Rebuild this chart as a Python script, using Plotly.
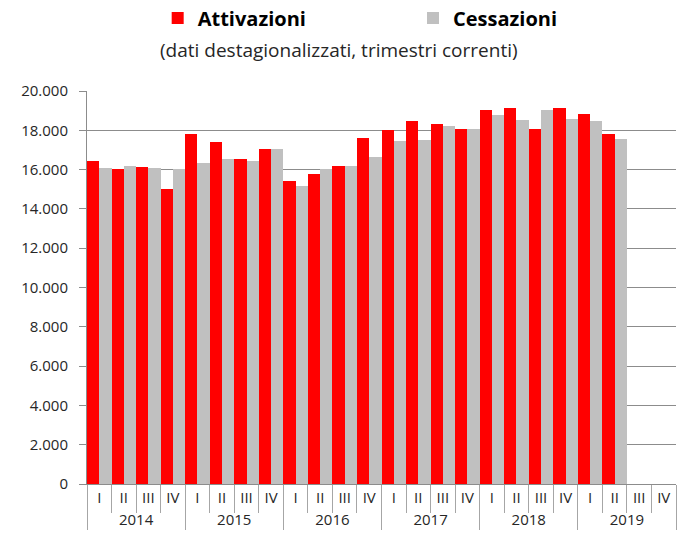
import plotly.graph_objects as go

years = ["2014"] * 4 + ["2015"] * 4 + ["2016"] * 4 + ["2017"] * 4 + ["2018"] * 4 + ["2019"] * 4
quarters = ["I", "II", "III", "IV"] * 6

attivazioni = [16460, 16020, 16140, 14990,
               17830, 17420, 16550, 17060,
               15440, 15760, 16200, 17620,
               18000, 18460, 18340, 18070,
               19040, 19110, 18070, 19110,
               18850, 17830, None, None]
cessazioni = [16090, 16200, 16090, 16020,
              16340, 16530, 16460, 17040,
              15180, 16020, 16200, 16650,
              17440, 17490, 18200, 18070,
              18790, 18530, 19040, 18600,
              18460, 17560, None, None]

FONT = "Open Sans"
TXT = "#262626"
LEGFONT = dict(family=FONT, size=20, color="#000000", weight="bold")

fig = go.Figure()
fig.add_trace(go.Bar(x=[years, quarters], y=attivazioni, name="Attivazioni",
                     marker=dict(color="#ff0000", line=dict(width=0)), legend="legend"))
fig.add_trace(go.Bar(x=[years, quarters], y=cessazioni, name="Cessazioni",
                     marker=dict(color="#c0c0c0", line=dict(width=0)), legend="legend2"))

fig.update_layout(
    width=688, height=543,
    margin=dict(l=87, r=12, t=91, b=59, autoexpand=False),
    paper_bgcolor="white", plot_bgcolor="white",
    barmode="group", bargap=0, bargroupgap=0,
    separators=",.",
    font=dict(family=FONT, color=TXT, size=15),
    showlegend=True,
    legend=dict(orientation="h", x=0.12, xanchor="left", y=1.186, yanchor="middle",
                font=LEGFONT, bgcolor="rgba(0,0,0,0)"),
    legend2=dict(orientation="h", x=0.5535, xanchor="left", y=1.186, yanchor="middle",
                 font=LEGFONT, bgcolor="rgba(0,0,0,0)"),
    annotations=[dict(text="(dati destagionalizzati, trimestri correnti)",
                      x=0.427, y=1.104, xref="paper", yref="paper",
                      xanchor="center", yanchor="middle", showarrow=False,
                      font=dict(family=FONT, size=19, color=TXT))],
)

fig.update_yaxes(range=[0, 20000], dtick=2000, tickformat=",d",
                 showgrid=True, gridcolor="#8c8c8c", gridwidth=1,
                 showline=True, linecolor="#8c8c8c", linewidth=1,
                 ticks="outside", ticklen=7, tickcolor="#8c8c8c",
                 ticklabelstandoff=8,
                 tickfont=dict(family=FONT, size=15, color=TXT),
                 zeroline=False)
fig.update_xaxes(type="multicategory", showline=True, linecolor="#8c8c8c", linewidth=1,
                 ticks="outside", tickson="boundaries", ticklen=28, tickcolor="#a6a6a6",
                 showdividers=True, dividercolor="#a6a6a6", dividerwidth=1,
                 tickfont=dict(family=FONT, size=15, color=TXT),
                 showgrid=False, mirror=False)

fig.write_html("out.html", config={"displayModeBar": False},
               post_script="document.body.style.margin='0';")
